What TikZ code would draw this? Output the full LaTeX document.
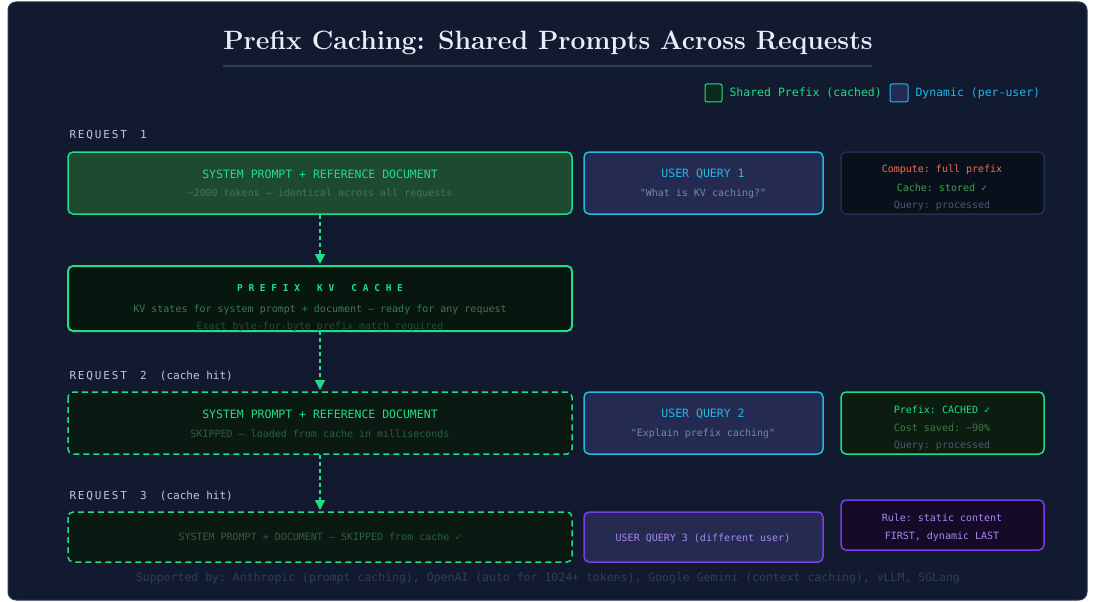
\documentclass[tikz,border=0pt]{standalone}
\usepackage{fontspec}
\setmonofont{DejaVu Sans Mono}
\usetikzlibrary{arrows.meta, positioning}
\definecolor{panel}{HTML}{111A2E}
\definecolor{edge}{HTML}{2A3A5A}
\definecolor{titletext}{HTML}{E8EEF8}
\definecolor{rule}{HTML}{2A4060}
\definecolor{cgreen}{HTML}{22DD88}
\definecolor{cblue}{HTML}{22B8E8}
\definecolor{cpurple}{HTML}{7A3EE8}
\definecolor{cred}{HTML}{F07050}
\definecolor{okgreen}{HTML}{3FA050}
\definecolor{dimgreen}{HTML}{3E7A4E}
\definecolor{fadegreen}{HTML}{2F5E3E}
\definecolor{notegreen}{HTML}{2A4A36}
\definecolor{dimblue}{HTML}{7088B0}
\definecolor{grayt}{HTML}{4A5878}
\definecolor{foottext}{HTML}{323E58}
\definecolor{labeltext}{HTML}{C0C8D8}
\definecolor{lilac}{HTML}{A888F0}
\definecolor{queryfill}{HTML}{252B50}
\definecolor{legfill}{HTML}{0C2A1C}
\definecolor{sharedfill}{HTML}{1E4A32}
\definecolor{cachefill}{HTML}{07160F}
\definecolor{skipfill}{HTML}{0A1A12}
\definecolor{statfill}{HTML}{0A0F1C}
\definecolor{statedge}{HTML}{1E3050}
\definecolor{hitfill}{HTML}{0C1C10}
\definecolor{rulefill}{HTML}{150A28}
\tikzset{
  box/.style={draw, rounded corners=5pt, line width=1.5pt},
  prefix/.style={box, draw=cgreen, fill=#1},
  query/.style={box, draw=cblue, fill=queryfill},
  reqlabel/.style={anchor=west, text=labeltext, font=\ttfamily\fontsize{11}{12}\selectfont},
  head/.style={font=\ttfamily\fontsize{11.5}{13}\selectfont},
  sub/.style={font=\ttfamily\fontsize{10}{12}\selectfont},
  flow/.style={draw=cgreen, line width=1.5pt, dash pattern=on 4pt off 3pt, -{Triangle[length=10pt,width=10pt]}}
}
\begin{document}
\begin{tikzpicture}[x=1pt, y=-1pt]
  \fill[white] (0,0) rectangle (1096,602);
  \useasboundingbox (0,0) rectangle (1096,602);
  \draw[edge, fill=panel, rounded corners=8pt, line width=1pt] (8,2) rectangle (1087,600);

  % title and legend
  \node[font=\bfseries\fontsize{26.5}{30}\selectfont, text=titletext] (title) at (548,43) {Prefix Caching: Shared Prompts Across Requests};
  \draw[rule, line width=1.2pt] (223,66) -- (872,66);
  \draw[cgreen, fill=legfill, rounded corners=2pt, line width=1pt] (705,84) rectangle (722,102);
  \node[anchor=west, text=cgreen, font=\ttfamily\fontsize{11.5}{13}\selectfont] (lgshared) at (726,93) {Shared Prefix (cached)};
  \draw[cblue, fill=queryfill, rounded corners=2pt, line width=1pt] (890,84) rectangle (908,102);
  \node[anchor=west, text=cblue, font=\ttfamily\fontsize{11.5}{13}\selectfont] (lgdyn) at (912,93) {Dynamic (per-user)};

  % request 1
  \node[reqlabel] (req1) at (66,135) {R\,E\,Q\,U\,E\,S\,T\ \ 1};
  \draw[prefix=sharedfill] (68,152) rectangle (572,214);
  \node[text=cgreen, head] (sys1) at (320,174) {SYSTEM PROMPT + REFERENCE DOCUMENT};
  \node[text=dimgreen, sub] (sys1sub) at (320,194) {\textasciitilde2000 tokens — identical across all requests};
  \draw[query] (584,152) rectangle (823,214);
  \node[text=cblue, head] (q1) at (703,174) {USER QUERY 1};
  \node[text=dimblue, sub] (q1sub) at (703,194) {"What is KV caching?"};
  \draw[box, draw=statedge, fill=statfill] (841,152) rectangle (1044,214);
  \node[text=cred, sub] (s1a) at (942,170) {Compute: full prefix};
  \node[text=okgreen, sub] (s1b) at (942,188) {Cache: stored ✓};
  \node[text=grayt, sub] (s1c) at (942,206) {Query: processed};

  % cache
  \draw[prefix=cachefill, line width=2pt] (68,266) rectangle (572,331);
  \node[text=cgreen, font=\ttfamily\bfseries\fontsize{9.5}{12}\selectfont] (cache) at (320,288) {P\ R\ E\ F\ I\ X\ \ \ K\ V\ \ \ C\ A\ C\ H\ E};
  \node[text=dimgreen, sub] (cachesub) at (320,310) {KV states for system prompt + document — ready for any request};
  \node[text=notegreen, sub] (cachenote) at (320,327) {Exact byte-for-byte prefix match required};

  % request 2
  \node[reqlabel] (req2) at (66,376) {R\,E\,Q\,U\,E\,S\,T\ \ 2\ \ (cache hit)};
  \draw[prefix=skipfill, dash pattern=on 6pt off 4pt] (68,392) rectangle (572,454);
  \node[text=cgreen, head] (sys2) at (320,414) {SYSTEM PROMPT + REFERENCE DOCUMENT};
  \node[text=fadegreen, sub] (sys2sub) at (320,434) {SKIPPED — loaded from cache in milliseconds};
  \draw[query] (584,392) rectangle (823,454);
  \node[text=cblue, head] (q2) at (703,414) {USER QUERY 2};
  \node[text=dimblue, sub] (q2sub) at (703,434) {"Explain prefix caching"};
  \draw[box, draw=cgreen, fill=hitfill] (841,392) rectangle (1044,454);
  \node[text=cgreen, sub] (s2a) at (942,410) {Prefix: CACHED ✓};
  \node[text=dimgreen, sub] (s2b) at (942,428) {Cost saved: \textasciitilde90\%};
  \node[text=grayt, sub] (s2c) at (942,446) {Query: processed};

  % request 3
  \node[reqlabel] (req3) at (66,496) {R\,E\,Q\,U\,E\,S\,T\ \ 3\ \ (cache hit)};
  \draw[prefix=skipfill, dash pattern=on 6pt off 4pt] (68,512) rectangle (572,562);
  \node[text=fadegreen, sub] (sys3) at (320,537) {SYSTEM PROMPT + DOCUMENT — SKIPPED from cache ✓};
  \draw[box, draw=cpurple, fill=queryfill] (584,512) rectangle (823,562);
  \node[text=lilac, sub] (q3) at (703,538) {USER QUERY 3 (different user)};
  \draw[box, draw=cpurple, fill=rulefill] (841,500) rectangle (1044,550);
  \node[text=lilac, sub] (s3a) at (942,518) {Rule: static content};
  \node[text=lilac, sub] (s3b) at (942,537) {FIRST, dynamic LAST};

  % connectors
  \coordinate (a1) at (320,215);  \coordinate (c1) at (320,264);
  \coordinate (a2) at (320,331);  \coordinate (c2) at (320,390);
  \coordinate (a3) at (320,455);  \coordinate (c3) at (320,510);
  \draw[flow] (a1) -- (c1);
  \draw[flow] (a2) -- (c2);
  \draw[flow] (a3) -- (c3);

  \node[text=foottext, font=\ttfamily\fontsize{11.5}{13}\selectfont] (footer) at (548,578) {Supported by: Anthropic (prompt caching), OpenAI (auto for 1024+ tokens), Google Gemini (context caching), vLLM, SGLang};
\end{tikzpicture}
\end{document}
